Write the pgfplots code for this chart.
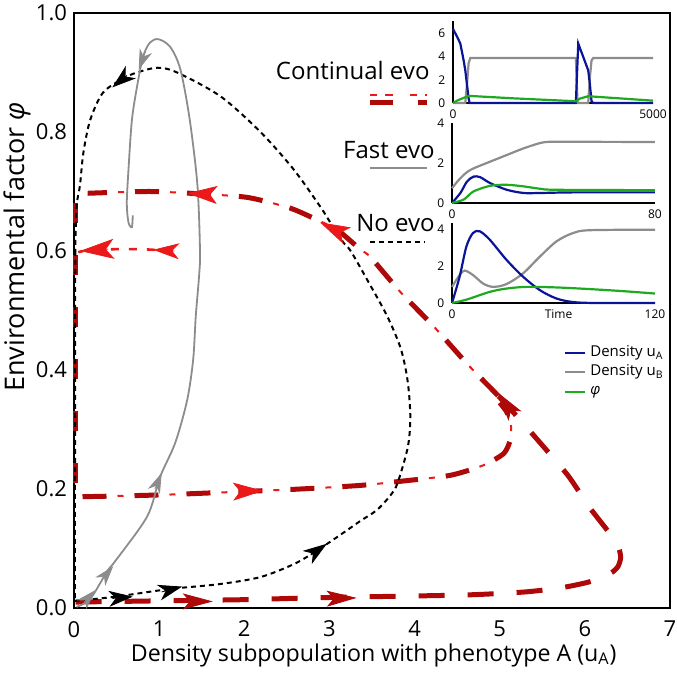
\documentclass[border=0pt]{standalone}
\usepackage{pgfplots}
\pgfplotsset{compat=1.18}
\usepackage{fontspec}
\setmainfont{Open Sans}
\usetikzlibrary{arrows.meta,calc}
\definecolor{dred}{RGB}{175,8,8}
\definecolor{bred}{RGB}{235,25,25}
\definecolor{ublue}{RGB}{10,20,150}
\definecolor{ugray}{RGB}{140,140,140}
\definecolor{ugreen}{RGB}{30,170,30}
\pgfplotsset{/pgf/number format/assume math mode=true,/pgf/number format/1000 sep={}}
\tikzset{
  thickdash/.style={dred,line width=2.5pt,dash pattern=on 12pt off 14pt},
  thindash/.style={bred,line width=1pt,dash pattern=on 3pt off 23pt,dash phase=8.5pt},
  noevo/.style={black,line width=1pt,dash pattern=on 2.5pt off 2pt},
  fastevo/.style={ugray,line width=0.9pt},
  blk/.style={black,line width=0.4pt,-{Stealth[length=12pt,width=8pt,inset=3.5pt]}},
  gry/.style={ugray,line width=0.4pt,-{Stealth[length=10pt,width=6.5pt,inset=3pt]}},
  drd/.style={dred,line width=0.4pt,-{Stealth[length=15pt,width=8pt,inset=3.5pt]}},
  brd/.style={bred,line width=0.4pt,-{Stealth[length=15pt,width=9pt,inset=3.5pt]}},
}
\begin{document}
\begin{tikzpicture}
\begin{axis}[
  name=main,
  scale only axis, width=298pt, height=297.5pt,
  xmin=0,xmax=7,ymin=0,ymax=1,
  axis line style={line width=1.3pt},
  tick style={draw=none},
  xtick={0,1,2,3,4,5,6,7}, ytick={0,0.2,0.4,0.6,0.8,1.0},
  yticklabel style={/pgf/number format/fixed,/pgf/number format/fixed zerofill,/pgf/number format/precision=1},
  ticklabel style={font=\fontsize{11}{13}\selectfont},
  xticklabel style={yshift=-3pt},
  clip=false,
]
% Continual evo (red)
\addplot[thickdash,dash pattern=on 13pt off 11.5pt,smooth,tension=0.4,forget plot] coordinates {
(0.02,0.010)(1.0,0.012)(2.0,0.014)(2.78,0.017)(3.5,0.019)(4.62,0.022)(5.3,0.027)(5.72,0.034)(6.0,0.042)(6.19,0.050)(6.32,0.060)(6.39,0.070)(6.42,0.084)(6.40,0.100)(6.31,0.122)(6.05,0.170)(5.80,0.223)(5.40,0.290)(5.09,0.340)(4.98,0.357)};
\addplot[thickdash,smooth,tension=0.4,forget plot] coordinates {
(4.98,0.357)(4.62,0.410)(4.22,0.474)(3.84,0.530)(3.48,0.590)(3.36,0.603)(3.09,0.636)(2.89,0.650)(2.54,0.672)(2.04,0.690)(1.48,0.696)(0.89,0.700)(0.16,0.697)};
\addplot[thindash,smooth,tension=0.4,forget plot] coordinates {
(4.98,0.357)(4.62,0.410)(4.22,0.474)(3.84,0.530)(3.48,0.590)(3.36,0.603)(3.09,0.636)(2.89,0.650)(2.54,0.672)(2.04,0.690)(1.48,0.696)(0.89,0.700)(0.16,0.697)};
\addplot[dred,line width=2.5pt,dash pattern=on 10pt off 16pt,forget plot] coordinates {(0.02,0.68)(0.02,0.21)};
\addplot[thickdash,smooth,tension=0.4,forget plot] coordinates {
(0.10,0.187)(1.0,0.190)(2.03,0.196)(2.66,0.200)(3.36,0.206)(3.84,0.213)(4.42,0.223)(4.81,0.240)(5.05,0.260)(5.13,0.285)(5.13,0.310)(5.08,0.330)(5.0,0.345)};
\addplot[thindash,smooth,tension=0.4,forget plot] coordinates {
(0.10,0.187)(1.0,0.190)(2.03,0.196)(2.66,0.200)(3.36,0.206)(3.84,0.213)(4.42,0.223)(4.81,0.240)(5.05,0.260)(5.13,0.285)(5.13,0.310)(5.08,0.330)(5.0,0.345)};
\addplot[bred,line width=1.3pt,dash pattern=on 4pt off 5pt,smooth,forget plot] coordinates {
(1.16,0.600)(0.93,0.602)(0.78,0.603)(0.42,0.603)(0.22,0.603)(0.05,0.598)};
% No evo (black dotted)
\addplot[noevo,smooth,tension=0.5,forget plot] coordinates {
(0.01,0.012)(0.3,0.016)(0.54,0.020)(1.13,0.032)(1.7,0.040)(2.19,0.052)(2.6,0.075)(2.89,0.100)(3.2,0.130)(3.36,0.146)(3.56,0.165)(3.72,0.190)(3.80,0.210)(3.92,0.270)(3.95,0.320)(3.92,0.380)(3.84,0.435)(3.68,0.490)(3.45,0.550)(3.25,0.600)(3.16,0.615)(3.01,0.648)(2.89,0.675)(2.58,0.737)(2.19,0.800)(1.72,0.860)(1.21,0.900)(0.98,0.908)(0.74,0.900)(0.58,0.890)(0.34,0.866)(0.19,0.820)(0.11,0.765)(0.07,0.710)(0.03,0.675)(0.015,0.60)};
\addplot[noevo,forget plot] coordinates {(0.015,0.60)(0.01,0.012)};
% Fast evo (gray)
\addplot[fastevo,smooth,tension=0.5,forget plot] coordinates {
(0.03,0.002)(0.19,0.015)(0.39,0.062)(0.48,0.078)(0.86,0.154)(1.01,0.220)(1.19,0.278)(1.33,0.350)(1.40,0.418)(1.43,0.490)(1.47,0.560)(1.48,0.600)(1.45,0.710)(1.36,0.820)(1.25,0.905)(1.13,0.943)(0.99,0.956)(0.89,0.950)(0.81,0.926)(0.74,0.876)(0.68,0.820)(0.64,0.737)(0.62,0.680)(0.64,0.648)(0.68,0.640)(0.69,0.660)};
% arrows
\addplot[blk,forget plot] coordinates {(0.45,0.016)(0.69,0.019)};
\addplot[blk,forget plot] coordinates {(1.03,0.027)(1.27,0.036)};
\addplot[blk,forget plot] coordinates {(2.78,0.089)(2.97,0.108)};
\addplot[blk,forget plot] coordinates {(0.62,0.895)(0.45,0.875)};
\addplot[gry,forget plot] coordinates {(0.12,0.010)(0.25,0.030)};
\addplot[gry,forget plot] coordinates {(0.33,0.048)(0.46,0.070)};
\addplot[gry,forget plot] coordinates {(0.95,0.200)(1.03,0.227)};
\addplot[gry,forget plot] coordinates {(0.84,0.935)(0.76,0.905)};
\addplot[drd,forget plot] coordinates {(1.40,0.011)(1.63,0.011)};
\addplot[drd,forget plot] coordinates {(3.05,0.016)(3.32,0.017)};
\addplot[drd,forget plot] coordinates {(5.10,0.338)(4.97,0.363)};
\addplot[brd,forget plot] coordinates {(3.12,0.632)(2.89,0.648)};
\addplot[brd,forget plot] coordinates {(1.58,0.695)(1.33,0.697)};
\addplot[brd,forget plot] coordinates {(1.97,0.196)(2.22,0.197)};
\addplot[brd,-{Stealth[length=13pt,width=8pt,inset=3.5pt]},forget plot] coordinates {(1.18,0.600)(0.93,0.602)};
\addplot[brd,-{Stealth[length=17pt,width=10pt,inset=4pt]},forget plot] coordinates {(0.40,0.603)(0.07,0.600)};
% legend samples
\addplot[bred,line width=1pt,dash pattern=on 3.5pt off 4pt on 4pt off 8.5pt,forget plot] coordinates {(3.48,0.862)(4.15,0.862)};
\addplot[dred,line width=2.5pt,dash pattern=on 11.5pt off 12.5pt,forget plot] coordinates {(3.48,0.849)(4.15,0.849)};
\addplot[fastevo,line width=1pt,forget plot] coordinates {(3.48,0.739)(4.15,0.739)};
\addplot[noevo,forget plot] coordinates {(3.48,0.615)(4.12,0.615)};
\node[anchor=east,inner sep=0pt,font=\fontsize{12}{14}\selectfont] at (axis cs:4.18,0.904) {Continual evo};
\node[anchor=east,inner sep=0pt,font=\fontsize{12}{14}\selectfont] at (axis cs:4.24,0.770) {Fast evo};
\node[anchor=east,inner sep=0pt,font=\fontsize{12}{14}\selectfont] at (axis cs:4.24,0.647) {No evo};
% inset legend
\addplot[ublue,line width=1.2pt,forget plot] coordinates {(5.77,0.4286)(6.00,0.4286)};
\addplot[ugray,line width=1.2pt,forget plot] coordinates {(5.77,0.3966)(6.00,0.3966)};
\addplot[ugreen,line width=1.2pt,forget plot] coordinates {(5.77,0.363)(6.00,0.363)};
\node[anchor=west,inner sep=0pt,font=\fontsize{7.5}{9}\selectfont] at (axis cs:6.06,0.4286) {Density u\textsubscript{A}};
\node[anchor=west,inner sep=0pt,font=\fontsize{7.5}{9}\selectfont] at (axis cs:6.06,0.3966) {Density u\textsubscript{B}};
\node[anchor=west,inner sep=0pt,font=\fontsize{7.5}{9}\selectfont] at (axis cs:6.06,0.363) {\textit{φ}};
% axis labels
\node[font=\fontsize{11.6}{14}\selectfont] at (axis cs:3.52,-0.079) {Density subpopulation with phenotype A (u\textsubscript{A})};
\node[rotate=90,font=\fontsize{13.5}{16}\selectfont] at (axis cs:-0.67,0.607) {Environmental factor \textit{φ}};
\end{axis}

% inset 1
\begin{axis}[
  at={($(main.south west)+(189.5pt,252.5pt)$)}, anchor=south west,
  scale only axis, width=100pt, height=40.8pt,
  xmin=0,xmax=5000,ymin=0,ymax=7,
  axis x line=bottom, axis y line=left,
  axis line style={-,line width=1.2pt},
  xtick={0,5000}, ytick={0,2,4,6}, scaled ticks=false,
  tick style={draw=none},
  ticklabel style={font=\fontsize{6}{7}\selectfont},
  xticklabel style={inner sep=1pt}, yticklabel style={inner sep=1.5pt},
  clip=false,
]
\addplot[ugray,line width=1.1pt] coordinates {(0,0)(307,0)(349,1.6)(390,3.4)(432,3.86)(3073,3.86)(3090,1.9)(3115,0)(3380,0)(3422,2.2)(3463,3.65)(3505,3.86)(5000,3.86)};
\addplot[ublue,line width=1.1pt] coordinates {(0,6.35)(100,5.7)(183,5.1)(266,3.65)(307,2.8)(349,1.6)(390,0.4)(415,0)(3050,0)(3073,0.15)(3131,5.1)(3256,3.95)(3380,2.8)(3422,1.6)(3463,0.15)(3505,0)(5000,0)};
\addplot[ugreen,line width=1.1pt] coordinates {(0,0)(100,0.2)(266,0.44)(390,0.6)(450,0.6)(1500,0.4)(3073,0.15)(3173,0.38)(3380,0.58)(3505,0.55)(5000,0.2)};
\end{axis}

% inset 2
\begin{axis}[
  at={($(main.south west)+(189pt,202.5pt)$)}, anchor=south west,
  scale only axis, width=101.5pt, height=40pt,
  xmin=0,xmax=80,ymin=0,ymax=4,
  axis x line=bottom, axis y line=left,
  axis line style={-,line width=1.2pt},
  xtick={0,80}, ytick={0,2,4},
  tick style={draw=none},
  ticklabel style={font=\fontsize{6}{7}\selectfont},
  xticklabel style={inner sep=1pt}, yticklabel style={inner sep=1.5pt},
  clip=false,
]
\addplot[ugray,line width=1.1pt,smooth] coordinates {(0,0.74)(3.3,1.24)(7.2,1.65)(15.1,2.07)(21.6,2.4)(28.2,2.73)(34.8,3.0)(38.7,3.06)(47.9,3.06)(80,3.05)};
\addplot[ublue,line width=1.1pt,smooth] coordinates {(0,0)(3.3,0.5)(5.9,1.07)(8.5,1.32)(11.1,1.29)(15.1,0.99)(21.6,0.66)(28.2,0.5)(34.8,0.5)(47.9,0.53)(80,0.53)};
\addplot[ugreen,line width=1.1pt,smooth] coordinates {(0,0)(4.6,0.17)(8.5,0.58)(15.1,0.86)(21.6,0.91)(28.2,0.83)(34.8,0.71)(41.3,0.66)(80,0.64)};
\end{axis}

% inset 3
\begin{axis}[
  at={($(main.south west)+(189pt,152.5pt)$)}, anchor=south west,
  scale only axis, width=101.5pt, height=40pt,
  xmin=0,xmax=120,ymin=0,ymax=4.32,
  axis x line=bottom, axis y line=left,
  axis line style={-,line width=1.2pt},
  xtick={0,120}, ytick={0,2,4},
  tick style={draw=none},
  ticklabel style={font=\fontsize{6}{7}\selectfont},
  xticklabel style={inner sep=1pt}, yticklabel style={inner sep=1.5pt},
  clip=false,
]
\addplot[ugray,line width=1.1pt,smooth] coordinates {(0,0.87)(4.5,1.51)(7.5,1.75)(12.4,1.51)(18.4,1.05)(24.3,0.87)(32.2,1.02)(42,1.6)(52,2.51)(61.8,3.33)(71.6,3.78)(81.5,3.93)(120,3.96)};
\addplot[ublue,line width=1.1pt,smooth] coordinates {(0,0)(4.5,1.42)(8.5,3.05)(12.4,3.78)(16.4,3.87)(22.3,3.42)(32.2,2.33)(42,1.42)(52,0.69)(61.8,0.24)(71.6,0.05)(85,0)(120,0)};
\addplot[ugreen,line width=1.1pt,smooth] coordinates {(0,0)(8.5,0.18)(22.3,0.6)(32.2,0.78)(44,0.87)(61.8,0.84)(81.5,0.75)(101,0.64)(120,0.51)};
\node[font=\fontsize{6}{7}\selectfont] at (axis cs:63,-0.6) {Time};
\end{axis}

\path (main.south west) ++(-37pt,-35pt) coordinate (bl);
\path (main.north east) ++(3.5pt,6.5pt) coordinate (tr);
\pgfresetboundingbox
\path[use as bounding box] (bl) rectangle (tr);
\end{tikzpicture}
\end{document}
